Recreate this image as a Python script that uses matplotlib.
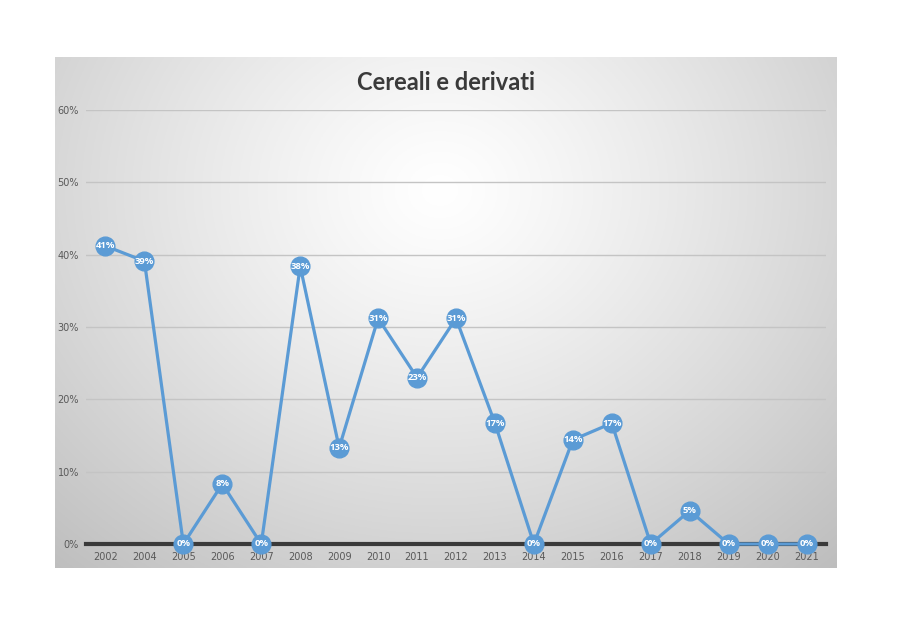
import numpy as np
import matplotlib
matplotlib.use("Agg")
import matplotlib.pyplot as plt
from matplotlib.ticker import FuncFormatter

years = ["2002", "2004", "2005", "2006", "2007", "2008", "2009", "2010", "2011", "2012",
         "2013", "2014", "2015", "2016", "2017", "2018", "2019", "2020", "2021"]
values = [0.412, 0.391, 0.0, 0.083, 0.0, 0.384, 0.133, 0.312, 0.23, 0.312,
          0.167, 0.0, 0.144, 0.167, 0.0, 0.046, 0.0, 0.0, 0.0]
labels = ["41%", "39%", "0%", "8%", "0%", "38%", "13%", "31%", "23%", "31%",
          "17%", "0%", "14%", "17%", "0%", "5%", "0%", "0%", "0%"]
yticks = [0, 0.1, 0.2, 0.3, 0.4, 0.5, 0.6]

W, H = 900, 635
fig = plt.figure(figsize=(9, 6.35), dpi=100)
fig.patch.set_facecolor("white")

# chart area with radial gradient
cx0, cx1, cy0, cy1 = 55, 837, 57, 568
bg = fig.add_axes([cx0 / W, 1 - cy1 / H, (cx1 - cx0) / W, (cy1 - cy0) / H])
bg.set_axis_off()
gx = np.linspace(cx0, cx1, 400)
gy = np.linspace(cy0, cy1, 300)
X, Y = np.meshgrid(gx, gy)
r = np.sqrt(((X - 440) / 500) ** 2 + ((Y - 190) / 430) ** 2)
r = np.clip(r, 0, 1.2)
shade = 1.0 - 0.21 * r ** 1.2
img = np.dstack([shade, shade, shade])
bg.imshow(img, aspect="auto", extent=[0, 1, 0, 1], origin="upper", vmin=0, vmax=1)
bg.set_xlim(0, 1)
bg.set_ylim(0, 1)

# plot area
px0, px1 = 86, 826
y0, y60 = 544, 110
ax = fig.add_axes([px0 / W, 1 - y0 / H, (px1 - px0) / W, (y0 - y60) / H])
ax.set_facecolor("none")
x = np.arange(len(years))
ax.set_xlim(-0.5, len(years) - 0.5)
ax.set_ylim(0, 0.6)
ax.set_yticks(yticks)
ax.yaxis.set_major_formatter(FuncFormatter(lambda v, p: f"{v*100:.0f}%"))
ax.set_xticks(x)
ax.set_xticklabels(years)
ax.grid(axis="y", color="#c4c4c4", linewidth=1)
ax.set_axisbelow(True)
for s in ["top", "right", "left"]:
    ax.spines[s].set_visible(False)
ax.spines["bottom"].set_color("#3a3a3a")
ax.spines["bottom"].set_linewidth(3)
ax.spines["bottom"].set_zorder(1)
ax.tick_params(axis="both", length=0, labelsize=7, colors="#595959")
ax.tick_params(axis="x", pad=6)
ax.tick_params(axis="y", pad=5)

ax.plot(x, values, color="#5B9BD5", linewidth=2.3, marker="o", markersize=13.5,
        markerfacecolor="#5B9BD5", markeredgecolor="#5B9BD5", zorder=3, clip_on=False)
for xi, v, lab in zip(x, values, labels):
    ax.text(xi, v, lab, color="white", fontsize=6.8, fontweight="bold",
            ha="center", va="center", zorder=4, family="Open Sans")

fig.text(446 / W, 1 - 82 / H, "Cereali e derivati", fontsize=17, fontweight="bold",
         color="#3a3a3a", ha="center", va="center", family="Lato")

fig.savefig("out.png", dpi=100)
